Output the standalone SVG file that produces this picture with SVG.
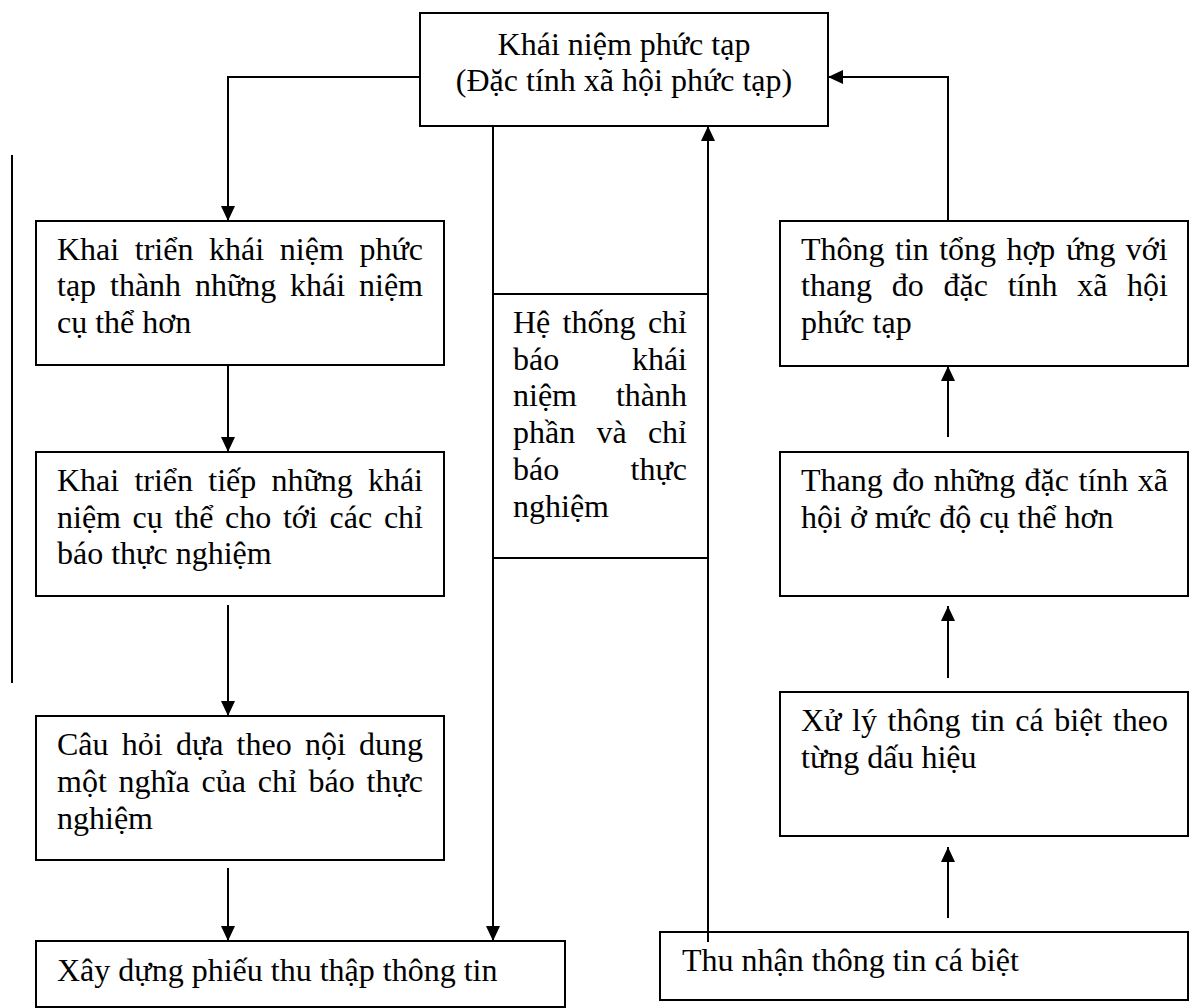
<svg xmlns="http://www.w3.org/2000/svg" width="1203" height="1008" viewBox="0 0 1203 1008">
<style>
.box{fill:#fff;stroke:#000;stroke-width:2}
.t{font-family:"Liberation Serif","Times New Roman",serif;font-size:32px;fill:#000}
.c{text-anchor:middle}
.ln{fill:none;stroke:#000;stroke-width:2}
.arr{marker-end:url(#ah)}
</style>
<defs>
<marker id="ah" markerUnits="userSpaceOnUse" markerWidth="16" markerHeight="14" refX="15" refY="7" orient="auto">
<path d="M0,0 L15,7 L0,14 Z" fill="#000"/>
</marker>
</defs>
<rect width="1203" height="1008" fill="#fff"/>

<g id="connectors">
<path class="ln arr" d="M420,77 H228 V221"/>
<path class="ln arr" d="M228,365 V452"/>
<path class="ln arr" d="M228,605 V716"/>
<path class="ln arr" d="M228,868 V941"/>
<path class="ln" d="M12,155 V683"/>
<path class="ln arr" d="M493,126 V941"/>
<path class="ln arr" d="M708,942 V126"/>
<path class="ln arr" d="M948,221 V77 H828"/>
<path class="ln arr" d="M948,437 V366"/>
<path class="ln arr" d="M948,678 V606"/>
<path class="ln arr" d="M948,918 V847"/>
</g>

<g id="n-top">
<rect class="box" x="420" y="13" width="408" height="113"/>
<text class="t c" x="624" y="54.5">Khái niệm phức tạp</text>
<text class="t c" x="624" y="91.3">(Đặc tính xã hội phức tạp)</text>
</g>

<g id="n-khai-trien-1">
<rect class="box" x="36" y="221" width="408" height="144"/>
<text class="t" y="259.5"><tspan x="57">Khai</tspan><tspan x="134.8">triển</tspan><tspan x="209.1">khái</tspan><tspan x="279.8">niệm</tspan><tspan x="359.5">phức</tspan></text>
<text class="t" y="296.3"><tspan x="57">tạp</tspan><tspan x="110">thành</tspan><tspan x="194.9">những</tspan><tspan x="290">khái</tspan><tspan x="359">niệm</tspan></text>
<text class="t" x="57" y="333.1">cụ thể hơn</text>
</g>

<g id="n-khai-trien-2">
<rect class="box" x="36" y="452" width="408" height="144"/>
<text class="t" y="490.7"><tspan x="57">Khai</tspan><tspan x="134.4">triển</tspan><tspan x="208.3">tiếp</tspan><tspan x="271.5">những</tspan><tspan x="367.9">khái</tspan></text>
<text class="t" y="527.5"><tspan x="57">niệm</tspan><tspan x="132.6">cụ</tspan><tspan x="174.4">thể</tspan><tspan x="225.1">cho</tspan><tspan x="282.9">tới</tspan><tspan x="329.6">các</tspan><tspan x="383.9">chỉ</tspan></text>
<text class="t" x="57" y="564.3">báo thực nghiệm</text>
</g>

<g id="n-cau-hoi">
<rect class="box" x="36" y="716" width="408" height="144"/>
<text class="t" y="755"><tspan x="57">Câu</tspan><tspan x="121.8">hỏi</tspan><tspan x="175.9">dựa</tspan><tspan x="236.6">theo</tspan><tspan x="304.9">nội</tspan><tspan x="359">dung</tspan></text>
<text class="t" y="791.8"><tspan x="57">một</tspan><tspan x="118.6">nghĩa</tspan><tspan x="201.5">của</tspan><tspan x="257.7">chỉ</tspan><tspan x="308.6">báo</tspan><tspan x="366.6">thực</tspan></text>
<text class="t" x="57" y="828.6">nghiệm</text>
</g>

<g id="n-xay-dung">
<rect class="box" x="36" y="941" width="529" height="66"/>
<text class="t" x="57" y="981">Xây dựng phiếu thu thập thông tin</text>
</g>

<g id="n-he-thong">
<rect class="box" x="493" y="294" width="215" height="264"/>
<text class="t" y="332.7"><tspan x="513">Hệ</tspan><tspan x="562.6">thống</tspan><tspan x="647.9">chỉ</tspan></text>
<text class="t" y="369.5"><tspan x="513">báo</tspan><tspan x="631.9">khái</tspan></text>
<text class="t" y="406.3"><tspan x="513">niệm</tspan><tspan x="615.9">thành</tspan></text>
<text class="t" y="443.1"><tspan x="513">phần</tspan><tspan x="596.4">và</tspan><tspan x="647.9">chỉ</tspan></text>
<text class="t" y="479.9"><tspan x="513">báo</tspan><tspan x="630.6">thực</tspan></text>
<text class="t" x="513" y="516.7">nghiệm</text>
</g>

<g id="n-thong-tin-tong-hop">
<rect class="box" x="780" y="221" width="408" height="145"/>
<text class="t" y="259.5"><tspan x="801">Thông</tspan><tspan x="895">tin</tspan><tspan x="939.2">tổng</tspan><tspan x="1006.4">hợp</tspan><tspan x="1066.1">ứng</tspan><tspan x="1125.8">với</tspan></text>
<text class="t" y="296.3"><tspan x="801">thang</tspan><tspan x="891.8">đo</tspan><tspan x="943.5">đặc</tspan><tspan x="1007.7">tính</tspan><tspan x="1077.2">xã</tspan><tspan x="1127.1">hội</tspan></text>
<text class="t" x="801" y="333.1">phức tạp</text>
</g>

<g id="n-thang-do">
<rect class="box" x="780" y="452" width="408" height="144"/>
<text class="t" y="490.7"><tspan x="801">Thang</tspan><tspan x="892.3">đo</tspan><tspan x="933.8">những</tspan><tspan x="1024.6">đặc</tspan><tspan x="1078.5">tính</tspan><tspan x="1137.8">xã</tspan></text>
<text class="t" x="801" y="527.5">hội ở mức độ cụ thể hơn</text>
</g>

<g id="n-xu-ly">
<rect class="box" x="780" y="692" width="408" height="144"/>
<text class="t" y="730.7"><tspan x="801">Xử</tspan><tspan x="852">lý</tspan><tspan x="887.5">thông</tspan><tspan x="970.9">tin</tspan><tspan x="1015.3">cá</tspan><tspan x="1054.3">biệt</tspan><tspan x="1112.9">theo</tspan></text>
<text class="t" x="801" y="767.5">từng dấu hiệu</text>
</g>

<g id="n-thu-nhan">
<rect class="box" x="660" y="932" width="528" height="68"/>
<text class="t" x="682" y="971">Thu nhận thông tin cá biệt</text>
</g>
<path class="ln" d="M708,932 V942"/>
</svg>
